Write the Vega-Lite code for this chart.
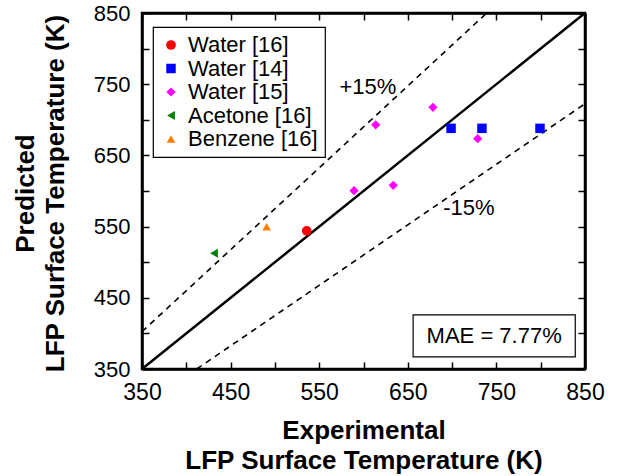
{
  "$schema": "https://vega.github.io/schema/vega-lite/v6.json",
  "width": 443,
  "height": 356,
  "autosize": {"type": "none"},
  "padding": {"left": 142, "top": 13, "right": 38, "bottom": 107},
  "background": "white",
  "config": {
    "font": "Liberation Sans",
    "view": {"stroke": "black", "strokeWidth": 2.5},
    "legend": {"strokeWidth": 1.2}
  },
  "datasets": {
    "points": [
      {"exp": 535.9, "pred": 544, "series": "Water [16]"},
      {"exp": 698.8, "pred": 688, "series": "Water [14]"},
      {"exp": 733.7, "pred": 688, "series": "Water [14]"},
      {"exp": 799.2, "pred": 688, "series": "Water [14]"},
      {"exp": 589.3, "pred": 600.4, "series": "Water [15]"},
      {"exp": 613.8, "pred": 693, "series": "Water [15]"},
      {"exp": 633.6, "pred": 608, "series": "Water [15]"},
      {"exp": 678.4, "pred": 717.6, "series": "Water [15]"},
      {"exp": 728.9, "pred": 673.5, "series": "Water [15]"},
      {"exp": 431.3, "pred": 512.5, "series": "Acetone [16]"},
      {"exp": 490.7, "pred": 549.9, "series": "Benzene [16]"}
    ],
    "diag": [{"x": 350, "y": 350, "x2": 850, "y2": 850}],
    "bands": [
      {"x": 350, "y": 402.5, "x2": 739.13, "y2": 850},
      {"x": 411.76, "y": 350, "x2": 850, "y2": 722.5}
    ],
    "notes": [
      {"x": 605, "y": 746, "label": "+15%"},
      {"x": 719, "y": 576, "label": "-15%"}
    ],
    "box": [{"x": 656, "x2": 839, "y": 367, "y2": 426, "tx": 747.5, "ty": 396.5, "label": "MAE = 7.77%"}]
  },
  "layer": [
    {
      "data": {"name": "bands"},
      "mark": {"type": "rule", "color": "black", "strokeWidth": 1.6, "strokeDash": [6, 5]},
      "encoding": {
        "x": {
          "field": "x", "type": "quantitative",
          "scale": {"domain": [350, 850], "nice": false, "zero": false},
          "axis": {
            "orient": "bottom",
            "values": [350, 400, 450, 500, 550, 600, 650, 700, 750, 800, 850],
            "labelExpr": "datum.value % 100 == 50 ? datum.label : ''",
            "tickSize": -7, "tickColor": "black", "tickWidth": 1.5,
            "domain": true, "domainColor": "black", "domainWidth": 2.5, "grid": false,
            "labelFontSize": 23, "labelColor": "black", "labelPadding": 19,
            "labelFlush": false, "labelOverlap": false,
            "title": ["Experimental", "LFP Surface Temperature (K)"],
            "titleFontSize": 26, "titleFontWeight": "bold", "titleColor": "black",
            "titleLineHeight": 30, "titleY": 61, "titleBaseline": "middle"
          }
        },
        "y": {
          "field": "y", "type": "quantitative",
          "scale": {"domain": [350, 850], "nice": false, "zero": false},
          "axis": {
            "orient": "left",
            "values": [350, 400, 450, 500, 550, 600, 650, 700, 750, 800, 850],
            "labelExpr": "datum.value % 100 == 50 ? datum.label : ''",
            "tickSize": -7, "tickColor": "black", "tickWidth": 1.5,
            "domain": true, "domainColor": "black", "domainWidth": 2.5, "grid": false,
            "labelFontSize": 22, "labelColor": "black", "labelPadding": 19,
            "labelFlush": false, "labelOverlap": false,
            "title": ["Predicted", "LFP Surface Temperature (K)"],
            "titleFontSize": 26, "titleFontWeight": "bold", "titleColor": "black",
            "titleLineHeight": 30, "titleX": -117, "titleY": 180,
            "titleAngle": -90, "titleBaseline": "middle", "titleAlign": "center"
          }
        },
        "x2": {"field": "x2"},
        "y2": {"field": "y2"}
      }
    },
    {
      "data": {"name": "diag"},
      "mark": {"type": "rule", "color": "black", "strokeWidth": 2.5},
      "encoding": {
        "x": {"field": "x", "type": "quantitative", "scale": {"domain": [350, 850], "nice": false, "zero": false},
          "axis": {
            "orient": "top",
            "values": [350, 400, 450, 500, 550, 600, 650, 700, 750, 800, 850],
            "labels": false,
            "tickSize": -7, "tickColor": "black", "tickWidth": 1.5,
            "domain": true, "domainColor": "black", "domainWidth": 2.5, "grid": false, "title": null
          }},
        "y": {"field": "y", "type": "quantitative", "scale": {"domain": [350, 850], "nice": false, "zero": false},
          "axis": {
            "orient": "right",
            "values": [350, 400, 450, 500, 550, 600, 650, 700, 750, 800, 850],
            "labels": false,
            "tickSize": -7, "tickColor": "black", "tickWidth": 1.5,
            "domain": true, "domainColor": "black", "domainWidth": 2.5, "grid": false, "title": null
          }},
        "x2": {"field": "x2"},
        "y2": {"field": "y2"}
      }
    },
    {
      "data": {"name": "points"},
      "mark": {"type": "point", "filled": true, "opacity": 1},
      "encoding": {
        "x": {"field": "exp", "type": "quantitative", "scale": {"domain": [350, 850], "nice": false, "zero": false}, "axis": null},
        "y": {"field": "pred", "type": "quantitative", "scale": {"domain": [350, 850], "nice": false, "zero": false}, "axis": null},
        "color": {
          "field": "series", "type": "nominal",
          "scale": {
            "domain": ["Water [16]", "Water [14]", "Water [15]", "Acetone [16]", "Benzene [16]"],
            "range": ["#ff0000", "#0000ff", "#ff00ff", "#008000", "#ff8000"]
          },
          "legend": {
            "orient": "none", "legendX": 11, "legendY": 14,
            "title": null, "strokeColor": "black", "fillColor": "white",
            "padding": 7, "labelFontSize": 22, "labelColor": "black",
            "labelOffset": 6, "rowPadding": 1.5, "symbolSize": 100,
            "symbolStrokeWidth": 0, "labelLimit": 300
          }
        },
        "shape": {
          "field": "series", "type": "nominal",
          "scale": {
            "domain": ["Water [16]", "Water [14]", "Water [15]", "Acetone [16]", "Benzene [16]"],
            "range": ["circle", "square", "diamond", "triangle-left", "triangle-up"]
          }
        },
        "size": {
          "field": "series", "type": "ordinal",
          "scale": {
            "domain": ["Water [16]", "Water [14]", "Water [15]", "Acetone [16]", "Benzene [16]"],
            "range": [95, 75, 160, 130, 130]
          },
          "legend": null
        }
      }
    },
    {
      "data": {"name": "notes"},
      "mark": {"type": "text", "fontSize": 22, "color": "black", "align": "center", "baseline": "middle"},
      "encoding": {
        "x": {"field": "x", "type": "quantitative", "scale": {"domain": [350, 850], "nice": false, "zero": false}, "axis": null},
        "y": {"field": "y", "type": "quantitative", "scale": {"domain": [350, 850], "nice": false, "zero": false}, "axis": null},
        "text": {"field": "label"}
      }
    },
    {
      "data": {"name": "box"},
      "mark": {"type": "rect", "fill": "white", "stroke": "black", "strokeWidth": 1.2},
      "encoding": {
        "x": {"field": "x", "type": "quantitative", "scale": {"domain": [350, 850], "nice": false, "zero": false}, "axis": null},
        "x2": {"field": "x2"},
        "y": {"field": "y", "type": "quantitative", "scale": {"domain": [350, 850], "nice": false, "zero": false}, "axis": null},
        "y2": {"field": "y2"}
      }
    },
    {
      "data": {"name": "box"},
      "mark": {"type": "text", "fontSize": 22, "color": "black", "align": "center", "baseline": "middle"},
      "encoding": {
        "x": {"field": "tx", "type": "quantitative", "scale": {"domain": [350, 850], "nice": false, "zero": false}, "axis": null},
        "y": {"field": "ty", "type": "quantitative", "scale": {"domain": [350, 850], "nice": false, "zero": false}, "axis": null},
        "text": {"field": "label"}
      }
    }
  ],
  "resolve": {"axis": {"x": "independent", "y": "independent"}}
}
